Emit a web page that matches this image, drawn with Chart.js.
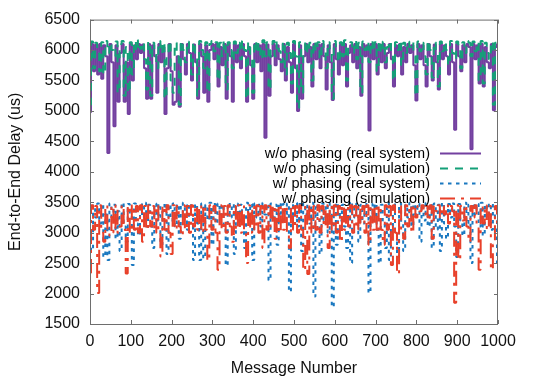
<!DOCTYPE html>
<html>
<head>
<meta charset="utf-8">
<script src="https://cdn.jsdelivr.net/npm/chart.js@4.4.1/dist/chart.umd.min.js"></script>
<style>
  html, body { margin: 0; padding: 0; background: #fff; }
  canvas { display: block; }
</style>
</head>
<body>
<canvas id="grafico" width="550" height="382"></canvas>
<script>
// message numbers (every 5th message)
const messageNumbers = [
  0, 5, 10, 15, 20, 25, 30, 35, 40, 45, 50, 55, 60, 65, 70, 75, 80, 85, 90, 95,
  100, 105, 110, 115, 120, 125, 130, 135, 140, 145, 150, 155, 160, 165, 170, 175, 180, 185, 190, 195,
  200, 205, 210, 215, 220, 225, 230, 235, 240, 245, 250, 255, 260, 265, 270, 275, 280, 285, 290, 295,
  300, 305, 310, 315, 320, 325, 330, 335, 340, 345, 350, 355, 360, 365, 370, 375, 380, 385, 390, 395,
  400, 405, 410, 415, 420, 425, 430, 435, 440, 445, 450, 455, 460, 465, 470, 475, 480, 485, 490, 495,
  500, 505, 510, 515, 520, 525, 530, 535, 540, 545, 550, 555, 560, 565, 570, 575, 580, 585, 590, 595,
  600, 605, 610, 615, 620, 625, 630, 635, 640, 645, 650, 655, 660, 665, 670, 675, 680, 685, 690, 695,
  700, 705, 710, 715, 720, 725, 730, 735, 740, 745, 750, 755, 760, 765, 770, 775, 780, 785, 790, 795,
  800, 805, 810, 815, 820, 825, 830, 835, 840, 845, 850, 855, 860, 865, 870, 875, 880, 885, 890, 895,
  900, 905, 910, 915, 920, 925, 930, 935, 940, 945, 950, 955, 960, 965, 970, 975, 980, 985, 990, 995,
  1000
];

const semFaseReal = [
  4980, 6100, 5650, 6090, 5600, 6100, 5530, 6080, 5900, 4310, 6100, 5800, 4750, 6080, 5150, 5950, 6100, 5150, 5800, 4950,
  6100, 5500, 6080, 5850, 6100, 5950, 6090, 5700, 5200, 6100, 5200, 6080, 5900, 5300, 6100, 5800, 6050, 4950, 5700, 6100,
  5650, 5100, 5150, 5900, 5070, 6100, 5850, 5600, 6100, 5950, 5500, 6090, 5800, 5200, 6100, 5900, 5300, 6080, 5150, 6000,
  6100, 5850, 6100, 5400, 6050, 5750, 6100, 5200, 6090, 5900, 5150, 6100, 5800, 6080, 5700, 6100, 5900, 5150, 6050, 5750,
  5200, 6100, 5800, 6080, 5650, 6100, 4560, 6090, 5250, 5900, 6100, 5750, 6080, 5850, 5650, 6100, 5500, 6050, 5800, 5300,
  6100, 5700, 5000, 6080, 5200, 5900, 6100, 5800, 6050, 5400, 6100, 5850, 6090, 5700, 6100, 5900, 5350, 6080, 5800, 5180,
  6100, 5850, 5600, 6090, 5750, 6100, 5400, 5950, 6080, 5800, 6100, 5700, 6050, 5250, 6100, 5900, 6080, 4680, 6100, 5850,
  6100, 5600, 6090, 5800, 6100, 5700, 5950, 6100, 5850, 5400, 6080, 5900, 6100, 5600, 6050, 5800, 6100, 5950, 6080, 5750,
  5170, 6100, 5850, 6080, 5750, 5400, 6100, 5900, 5500, 6090, 5800, 5350, 6100, 5850, 6080, 5900, 5600, 6100, 5800, 4690,
  6100, 5900, 5650, 6080, 5800, 6100, 6050, 4370, 6100, 5850, 6080, 5450, 6100, 5400, 6050, 5800, 5700, 6100, 5010, 6050,
  6100
];

const semFaseSim = [
  5100, 6140, 5700, 6120, 5950, 5650, 6130, 5600, 6150, 5950, 6120, 6000, 5900, 6140, 5300, 6100, 6150, 5250, 6050, 5300,
  6130, 5600, 6150, 5980, 6160, 6020, 6130, 5850, 5350, 6140, 5250, 6120, 5980, 5700, 6150, 5950, 6130, 5200, 5900, 6140,
  5500, 5300, 6120, 5950, 5100, 6150, 6000, 5800, 6140, 6020, 5600, 6130, 5950, 5250, 6150, 6000, 5700, 6130, 5300, 6100,
  6150, 5980, 6130, 5500, 6120, 5900, 6150, 5350, 6130, 6000, 5700, 6140, 5950, 6120, 5850, 6150, 6000, 5200, 6130, 5900,
  5300, 6150, 5950, 6120, 5850, 6160, 5900, 6130, 5350, 6000, 6150, 5900, 6130, 5980, 5800, 6140, 5600, 6120, 5950, 5450,
  6150, 5900, 5050, 6130, 5300, 6000, 6150, 5950, 6120, 5500, 6140, 5980, 6130, 5850, 6150, 6000, 5700, 6130, 5950, 5200,
  6150, 5980, 5800, 6130, 5900, 6160, 5500, 6050, 6130, 5950, 6150, 5850, 6120, 5300, 6140, 6000, 6130, 5800, 6150, 5980,
  6130, 5650, 6150, 5950, 6140, 5800, 6050, 6150, 5980, 5500, 6130, 6000, 6150, 5750, 6120, 5950, 6140, 6050, 6130, 5900,
  5250, 6140, 5980, 6120, 5900, 5600, 6150, 6000, 5550, 6130, 5950, 5400, 6140, 5980, 6130, 6000, 5750, 6150, 5950, 5850,
  6140, 6000, 5700, 6130, 5950, 6150, 6120, 5900, 6140, 5980, 6130, 5500, 6150, 5450, 6120, 5950, 5850, 6140, 5100, 6120,
  6130
];

const comFaseReal = [
  3000, 2700, 3450, 3250, 3480, 3150, 3470, 2600, 3300, 2550, 3480, 3200, 3460, 2900, 3350, 2700, 3490, 3100, 2850, 3470,
  3300, 2470, 3480, 3150, 2950, 3470, 3250, 3490, 3100, 3460, 3300, 2750, 3480, 3200, 3470, 2800, 3350, 3490, 2650, 3460,
  3200, 3480, 3100, 3470, 2900, 3490, 3250, 3460, 3050, 3480, 3300, 2550, 3470, 3150, 2550, 3480, 2580, 3460, 3200, 3490,
  2800, 3470, 3150, 3480, 3300, 3460, 3050, 2460, 3490, 3250, 3470, 2650, 3480, 3150, 3460, 3300, 2750, 3490, 3200, 3470,
  2550, 3480, 3250, 3460, 3100, 3490, 3300, 3470, 2220, 3480, 3200, 3460, 2800, 3490, 3150, 3470, 3300, 3480, 2030, 3460,
  3250, 3490, 3100, 3470, 2700, 3480, 3300, 3460, 3150, 3490, 1950, 3470, 3250, 2650, 3480, 3200, 3460, 3000, 3490, 1780,
  3470, 2800, 3480, 3200, 3460, 3100, 2750, 3490, 2500, 3470, 3250, 3480, 2850, 3460, 3150, 3490, 3300, 2010, 3470, 3200,
  3480, 3050, 2500, 3460, 3200, 2750, 3490, 2550, 3100, 3470, 3000, 2600, 3480, 3150, 2700, 3460, 3250, 3490, 3100, 3470,
  3300, 3480, 2850, 3460, 3200, 3490, 3100, 3470, 2750, 3480, 3050, 3460, 2700, 3490, 3150, 2900, 3470, 3250, 3480, 3100,
  2600, 3470, 3200, 2950, 3490, 3150, 3460, 2500, 3480, 3300, 3470, 3100, 3490, 2950, 3460, 3250, 3480, 3050, 3470, 3200,
  2420
];

const comFaseSim = [
  2340, 3450, 3050, 3440, 2010, 3450, 3000, 2850, 3450, 3050, 2950, 3440, 3000, 3450, 3000, 3100, 3450, 3050, 2330, 3440,
  3000, 3450, 3050, 3440, 3000, 3450, 2850, 3440, 3050, 3450, 3100, 3440, 3000, 3450, 3050, 2610, 3440, 3050, 3450, 3000,
  2650, 3450, 3050, 3440, 3100, 2950, 3450, 3050, 3440, 3000, 3450, 3100, 3440, 3050, 3450, 3000, 3440, 3050, 2540, 3450,
  3050, 3440, 3000, 2390, 3450, 3050, 3440, 3000, 3450, 3100, 2850, 3440, 3050, 3450, 3000, 3440, 3050, 2500, 3450, 3000,
  3440, 3050, 3450, 3000, 3440, 2750, 3450, 3050, 3440, 3100, 3450, 2900, 3440, 3000, 3450, 3050, 3440, 3000, 2750, 3450,
  3050, 3440, 3000, 3450, 3050, 2380, 3440, 2320, 3450, 3000, 3440, 3050, 3450, 3000, 3440, 3100, 3450, 2750, 3440, 3050,
  3450, 3000, 3440, 2850, 3450, 3050, 3440, 3100, 3450, 3000, 3440, 3050, 3450, 3150, 3440, 3000, 3450, 2800, 3440, 3050,
  3450, 3000, 3440, 3050, 2800, 3450, 3050, 3440, 2470, 3450, 3000, 2320, 3440, 3050, 2900, 3450, 3100, 3440, 3000, 3450,
  3250, 3440, 3350, 3450, 3300, 3440, 3200, 3450, 2900, 3440, 3350, 3450, 3250, 3440, 3300, 3450, 3150, 3440, 3350, 1850,
  3450, 2550, 3440, 3200, 3450, 3100, 2850, 3440, 3250, 3450, 3100, 2390, 3440, 3150, 3450, 3050, 3440, 2390, 2800, 3440,
  3100
];

const nomesSeries = [
  "w/o phasing (real system)",
  "w/o phasing (simulation)",
  "w/ phasing (real system)",
  "w/ phasing (simulation)"
];
const valoresSeries = [semFaseReal, semFaseSim, comFaseReal, comFaseSim];

const ticksX = [0, 100, 200, 300, 400, 500, 600, 700, 800, 900, 1000];
const ticksY = [1500, 2000, 2500, 3000, 3500, 4000, 4500, 5000, 5500, 6000, 6500];

// estilos
const cores = ["#7340a0", "#14a078", "#1a78c0", "#e8402a"];
const tracos = [[], [8, 7], [3.5, 4.5], [15, 6, 3, 6]];
const fonte = "'Liberation Sans', Arial, Helvetica, sans-serif";

const datasets = valoresSeries.map((serie, i) => ({
    label: nomesSeries[i],
    data: serie.map((v, k) => ({ x: messageNumbers[k], y: v })),
    borderColor: cores[i],
    borderWidth: 2,
    borderDash: tracos[i],
    borderJoinStyle: "bevel",
    borderCapStyle: "butt",
    stepped: "middle",
    pointRadius: 0,
    fill: false,
    order: 4 - i
}));

// moldura e marcas para dentro, como no gnuplot
const molduraPlugin = {
    id: "moldura",
    afterDatasetsDraw(chart) {
        const { ctx, chartArea: a, scales } = chart;
        ctx.save();
        ctx.strokeStyle = "#6e6e6e";
        ctx.lineWidth = 1;
        ctx.strokeRect(a.left + 0.5, a.top + 0.5, a.right - a.left - 1, a.bottom - a.top);
        ctx.beginPath();
        ticksX.forEach(t => {
            const px = Math.round(scales.x.getPixelForValue(t)) + 0.5;
            ctx.moveTo(px, a.bottom); ctx.lineTo(px, a.bottom - 4);
            ctx.moveTo(px, a.top); ctx.lineTo(px, a.top + 4);
        });
        ticksY.forEach(t => {
            const py = Math.round(scales.y.getPixelForValue(t)) + 0.5;
            ctx.moveTo(a.left, py); ctx.lineTo(a.left + 4, py);
            ctx.moveTo(a.right, py); ctx.lineTo(a.right - 4, py);
        });
        ctx.stroke();
        ctx.restore();
    }
};

const legendaPlugin = {
    id: "legenda",
    afterDraw(chart) {
        const { ctx, chartArea: a } = chart;
        const textoX = a.left + 340;
        const linhaX0 = a.left + 350;
        const linhaX1 = a.left + 391;
        ctx.save();
        ctx.font = "14.5px " + fonte;
        ctx.textAlign = "right";
        ctx.textBaseline = "middle";
        nomesSeries.forEach((nome, i) => {
            const y = a.top + 134 + i * 15;
            ctx.fillStyle = "#000";
            ctx.fillText(nome, textoX, y);
            ctx.strokeStyle = cores[i];
            ctx.lineWidth = 2;
            ctx.setLineDash(tracos[i]);
            ctx.beginPath();
            ctx.moveTo(linhaX0, y);
            ctx.lineTo(linhaX1, y);
            ctx.stroke();
        });
        ctx.restore();
    }
};

const ctx = document.getElementById("grafico").getContext("2d");
const grafico = new Chart(ctx, {
    type: "line",
    data: { datasets: datasets },
    options: {
        responsive: false,
        animation: false,
        events: [],
        layout: { padding: { top: 12, right: 52, left: 0, bottom: 0 } },
        plugins: {
            legend: { display: false },
            tooltip: { enabled: false }
        },
        scales: {
            x: {
                type: "linear",
                min: 0,
                max: 1000,
                afterBuildTicks: s => { s.ticks = ticksX.map(v => ({ value: v })); },
                afterFit: s => { s.height = 58; },
                grid: { display: false, drawTicks: false },
                border: { display: false },
                ticks: { font: { family: fonte, size: 16 }, color: "#111", padding: 8, maxRotation: 0, autoSkip: false, callback: v => String(v) },
                title: { display: true, text: "Message Number", font: { family: fonte, size: 16 }, color: "#111", padding: { top: 4, bottom: 4 } }
            },
            y: {
                min: 1500,
                max: 6500,
                afterBuildTicks: s => { s.ticks = ticksY.map(v => ({ value: v })); },
                afterFit: s => { s.width = 90; },
                grid: { display: false, drawTicks: false },
                border: { display: false },
                ticks: { font: { family: fonte, size: 16 }, color: "#111", padding: 10, autoSkip: false, callback: v => String(v) },
                title: { display: true, text: "End-to-End Delay (us)", font: { family: fonte, size: 16 }, color: "#111", padding: { top: 6, bottom: 4 } }
            }
        }
    },
    plugins: [molduraPlugin, legendaPlugin]
});
</script>
</body>
</html>
